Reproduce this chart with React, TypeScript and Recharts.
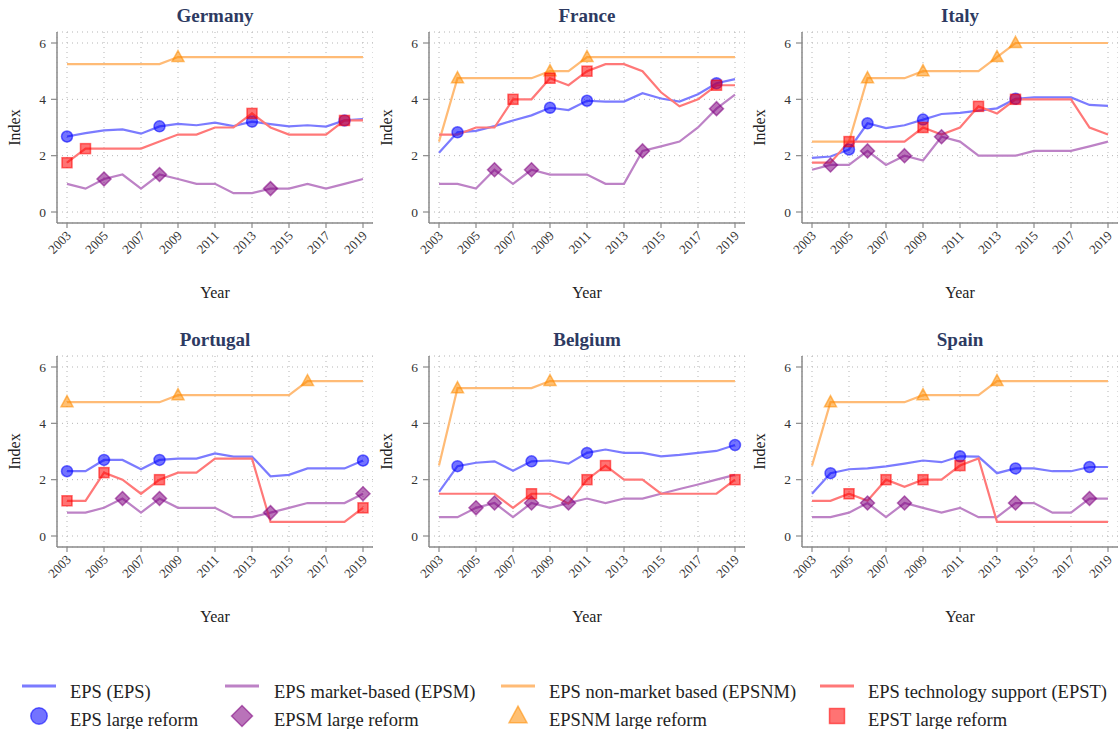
import { LineChart, Line, XAxis, YAxis, CartesianGrid } from 'recharts'

const YEARS = [2003, 2004, 2005, 2006, 2007, 2008, 2009, 2010, 2011, 2012, 2013, 2014, 2015, 2016, 2017, 2018, 2019]
const X_TICKS = [2003, 2005, 2007, 2009, 2011, 2013, 2015, 2017, 2019]
const Y_TICKS = [0, 2, 4, 6]

// Germany
const DE_EPS = [2.68, 2.8, 2.9, 2.93, 2.78, 3.04, 3.13, 3.08, 3.17, 3.05, 3.21, 3.12, 3.04, 3.08, 3.03, 3.25, 3.3]
const DE_EPSM = [1.0, 0.83, 1.17, 1.33, 0.83, 1.33, 1.17, 1.0, 1.0, 0.67, 0.67, 0.83, 0.83, 1.0, 0.83, 1.0, 1.17]
const DE_EPSNM = [5.25, 5.25, 5.25, 5.25, 5.25, 5.25, 5.5, 5.5, 5.5, 5.5, 5.5, 5.5, 5.5, 5.5, 5.5, 5.5, 5.5]
const DE_EPST = [1.75, 2.25, 2.25, 2.25, 2.25, 2.5, 2.75, 2.75, 3.0, 3.0, 3.5, 3.0, 2.75, 2.75, 2.75, 3.25, 3.25]
const DE_EPS_REF = [2003, 2008, 2013, 2018]
const DE_EPSM_REF = [2005, 2008, 2014]
const DE_EPSNM_REF = [2009]
const DE_EPST_REF = [2003, 2004, 2013, 2018]

// France
const FR_EPS = [2.1, 2.83, 2.88, 3.05, 3.25, 3.43, 3.7, 3.62, 3.95, 3.92, 3.92, 4.22, 4.03, 3.92, 4.18, 4.57, 4.72]
const FR_EPSM = [1.0, 1.0, 0.83, 1.5, 1.0, 1.5, 1.33, 1.33, 1.33, 1.0, 1.0, 2.17, 2.33, 2.5, 3.0, 3.67, 4.17]
const FR_EPSNM = [2.5, 4.75, 4.75, 4.75, 4.75, 4.75, 5.0, 5.0, 5.5, 5.5, 5.5, 5.5, 5.5, 5.5, 5.5, 5.5, 5.5]
const FR_EPST = [2.75, 2.75, 3.0, 3.0, 4.0, 4.0, 4.75, 4.5, 5.0, 5.25, 5.25, 5.0, 4.25, 3.75, 4.0, 4.5, 4.5]
const FR_EPS_REF = [2004, 2009, 2011, 2018]
const FR_EPSM_REF = [2006, 2008, 2014, 2018]
const FR_EPSNM_REF = [2004, 2009, 2011]
const FR_EPST_REF = [2007, 2009, 2011, 2018]

// Italy
const IT_EPS = [1.92, 1.97, 2.22, 3.15, 2.98, 3.08, 3.28, 3.48, 3.52, 3.6, 3.68, 4.02, 4.07, 4.07, 4.07, 3.8, 3.77]
const IT_EPSM = [1.5, 1.67, 1.67, 2.17, 1.67, 2.0, 1.83, 2.67, 2.5, 2.0, 2.0, 2.0, 2.17, 2.17, 2.17, 2.33, 2.5]
const IT_EPSNM = [2.5, 2.5, 2.5, 4.75, 4.75, 4.75, 5.0, 5.0, 5.0, 5.0, 5.5, 6.0, 6.0, 6.0, 6.0, 6.0, 6.0]
const IT_EPST = [1.75, 1.75, 2.5, 2.5, 2.5, 2.5, 3.0, 2.75, 3.0, 3.75, 3.5, 4.0, 4.0, 4.0, 4.0, 3.0, 2.75]
const IT_EPS_REF = [2005, 2006, 2009, 2014]
const IT_EPSM_REF = [2004, 2006, 2008, 2010]
const IT_EPSNM_REF = [2006, 2009, 2013, 2014]
const IT_EPST_REF = [2005, 2009, 2012, 2014]

// Portugal
const PT_EPS = [2.3, 2.3, 2.7, 2.7, 2.37, 2.7, 2.75, 2.75, 2.93, 2.82, 2.82, 2.12, 2.17, 2.4, 2.4, 2.4, 2.68]
const PT_EPSM = [0.83, 0.83, 1.0, 1.33, 0.83, 1.33, 1.0, 1.0, 1.0, 0.67, 0.67, 0.83, 1.0, 1.17, 1.17, 1.17, 1.5]
const PT_EPSNM = [4.75, 4.75, 4.75, 4.75, 4.75, 4.75, 5.0, 5.0, 5.0, 5.0, 5.0, 5.0, 5.0, 5.5, 5.5, 5.5, 5.5]
const PT_EPST = [1.25, 1.25, 2.25, 2.0, 1.5, 2.0, 2.25, 2.25, 2.75, 2.75, 2.75, 0.5, 0.5, 0.5, 0.5, 0.5, 1.0]
const PT_EPS_REF = [2003, 2005, 2008, 2019]
const PT_EPSM_REF = [2006, 2008, 2014, 2019]
const PT_EPSNM_REF = [2003, 2009, 2016]
const PT_EPST_REF = [2003, 2005, 2008, 2019]

// Belgium
const BE_EPS = [1.57, 2.48, 2.6, 2.65, 2.32, 2.65, 2.68, 2.57, 2.95, 3.07, 2.95, 2.95, 2.83, 2.88, 2.95, 3.02, 3.23]
const BE_EPSM = [0.67, 0.67, 1.0, 1.17, 0.67, 1.17, 1.0, 1.17, 1.33, 1.17, 1.33, 1.33, 1.5, 1.67, 1.83, 2.0, 2.17]
const BE_EPSNM = [2.5, 5.25, 5.25, 5.25, 5.25, 5.25, 5.5, 5.5, 5.5, 5.5, 5.5, 5.5, 5.5, 5.5, 5.5, 5.5, 5.5]
const BE_EPST = [1.5, 1.5, 1.5, 1.5, 1.0, 1.5, 1.5, 1.15, 2.0, 2.5, 2.0, 2.0, 1.5, 1.5, 1.5, 1.5, 2.0]
const BE_EPS_REF = [2004, 2008, 2011, 2019]
const BE_EPSM_REF = [2005, 2006, 2008, 2010]
const BE_EPSNM_REF = [2004, 2009]
const BE_EPST_REF = [2008, 2011, 2012, 2019]

// Spain
const ES_EPS = [1.5, 2.23, 2.37, 2.4, 2.47, 2.57, 2.68, 2.62, 2.83, 2.82, 2.23, 2.4, 2.4, 2.3, 2.3, 2.45, 2.45]
const ES_EPSM = [0.67, 0.67, 0.83, 1.17, 0.67, 1.17, 1.0, 0.83, 1.0, 0.67, 0.67, 1.17, 1.17, 0.83, 0.83, 1.33, 1.33]
const ES_EPSNM = [2.5, 4.75, 4.75, 4.75, 4.75, 4.75, 5.0, 5.0, 5.0, 5.0, 5.5, 5.5, 5.5, 5.5, 5.5, 5.5, 5.5]
const ES_EPST = [1.25, 1.25, 1.5, 1.25, 2.0, 1.75, 2.0, 2.0, 2.5, 2.75, 0.5, 0.5, 0.5, 0.5, 0.5, 0.5, 0.5]
const ES_EPS_REF = [2004, 2011, 2014, 2018]
const ES_EPSM_REF = [2006, 2008, 2014, 2018]
const ES_EPSNM_REF = [2004, 2009, 2013]
const ES_EPST_REF = [2005, 2007, 2009, 2011]

const PANELS = [
  { name: 'Germany', eps: DE_EPS, epsm: DE_EPSM, epsnm: DE_EPSNM, epst: DE_EPST, ref: [DE_EPS_REF, DE_EPSM_REF, DE_EPSNM_REF, DE_EPST_REF] },
  { name: 'France', eps: FR_EPS, epsm: FR_EPSM, epsnm: FR_EPSNM, epst: FR_EPST, ref: [FR_EPS_REF, FR_EPSM_REF, FR_EPSNM_REF, FR_EPST_REF] },
  { name: 'Italy', eps: IT_EPS, epsm: IT_EPSM, epsnm: IT_EPSNM, epst: IT_EPST, ref: [IT_EPS_REF, IT_EPSM_REF, IT_EPSNM_REF, IT_EPST_REF] },
  { name: 'Portugal', eps: PT_EPS, epsm: PT_EPSM, epsnm: PT_EPSNM, epst: PT_EPST, ref: [PT_EPS_REF, PT_EPSM_REF, PT_EPSNM_REF, PT_EPST_REF] },
  { name: 'Belgium', eps: BE_EPS, epsm: BE_EPSM, epsnm: BE_EPSNM, epst: BE_EPST, ref: [BE_EPS_REF, BE_EPSM_REF, BE_EPSNM_REF, BE_EPST_REF] },
  { name: 'Spain', eps: ES_EPS, epsm: ES_EPSM, epsnm: ES_EPSNM, epst: ES_EPST, ref: [ES_EPS_REF, ES_EPSM_REF, ES_EPSNM_REF, ES_EPST_REF] },
]

const SERIES = [
  { key: 'eps', line: '#7b7bff', mark: '#0000ff', shape: 'circle', label: 'EPS (EPS)', refLabel: 'EPS large reform' },
  { key: 'epsm', line: '#bd82c6', mark: '#800080', shape: 'diamond', label: 'EPS market-based (EPSM)', refLabel: 'EPSM large reform' },
  { key: 'epsnm', line: '#ffbb76', mark: '#ff8c00', shape: 'triangle', label: 'EPS non-market based (EPSNM)', refLabel: 'EPSNM large reform' },
  { key: 'epst', line: '#ff7878', mark: '#ff0000', shape: 'square', label: 'EPS technology support (EPST)', refLabel: 'EPST large reform' },
]

const FONT = '"Liberation Serif", "DejaVu Serif", serif'
const AXIS = '#8a8a8a'
const COL_LEFT = [0, 372, 745]
const ROW_TOP = [0, 324]
const W = 373
const H = 303

function Marker({ shape, color, cx, cy, scale = 1 }: any) {
  const common = { fill: color, fillOpacity: 0.55, stroke: color, strokeOpacity: 0.55, strokeWidth: 1.5 }
  if (shape === 'circle') return <circle cx={cx} cy={cy} r={5.5 * scale} {...common} />
  if (shape === 'diamond') {
    const s = 7 * scale
    return <polygon points={`${cx},${cy - s} ${cx + s},${cy} ${cx},${cy + s} ${cx - s},${cy}`} {...common} />
  }
  if (shape === 'triangle') {
    const s = 6 * scale
    return <polygon points={`${cx},${cy - s * 1.1} ${cx + s},${cy + s * 0.75} ${cx - s},${cy + s * 0.75}`} {...common} />
  }
  const s = 5 * scale
  return <rect x={cx - s} y={cy - s} width={s * 2} height={s * 2} {...common} />
}

const reformDot = (shape: string, color: string, years: number[]) => (props: any) => {
  const { cx, cy, payload, index } = props
  if (!years.includes(payload.year)) return <g key={index} />
  return <Marker key={index} shape={shape} color={color} cx={cx} cy={cy} />
}

function YearTick({ x, y, payload }: any) {
  return (
    <g transform={`translate(${x},${y})`}>
      <text x={-1} y={8} textAnchor="end" transform="rotate(-45)" fontSize={13} fill="#333" fontFamily={FONT}>
        {payload.value}
      </text>
    </g>
  )
}

function Panel({ panel, left, top }: any) {
  const data = YEARS.map((year, i) => ({
    year,
    eps: panel.eps[i],
    epsm: panel.epsm[i],
    epsnm: panel.epsnm[i],
    epst: panel.epst[i],
  }))
  return (
    <div style={{ position: 'absolute', left, top, width: W, height: H }}>
      <div
        style={{
          position: 'absolute', left: 57, top: 5, width: W - 57, textAlign: 'center',
          fontSize: 19, lineHeight: '22px', fontWeight: 'bold', color: '#2d3a62', fontFamily: FONT,
        }}
      >
        {panel.name}
      </div>
      <LineChart width={W} height={H} data={data} margin={{ top: 32, right: 0, left: 0, bottom: 0 }}>
        <CartesianGrid stroke="#b5b5b5" strokeDasharray="1 4" />
        <XAxis
          dataKey="year" type="number" domain={[2003, 2019]} ticks={X_TICKS} interval={0} padding={{ left: 10, right: 10 }}
          height={80} tick={<YearTick />} tickSize={5} tickMargin={2}
          axisLine={{ stroke: AXIS, strokeWidth: 1.5 }} tickLine={{ stroke: AXIS, strokeWidth: 1.2 }}
          label={{
            content: ({ viewBox }: any) => (
              <text x={viewBox.x + viewBox.width / 2} y={viewBox.y + 75} textAnchor="middle" fontSize={16} fill="#222" fontFamily={FONT}>
                Year
              </text>
            ),
          }}
        />
        <YAxis
          type="number" domain={[0, 6]} ticks={Y_TICKS} interval={0} padding={{ top: 11, bottom: 11 }} width={57}
          tick={{ fontSize: 13.5, fill: '#333', fontFamily: FONT }} tickSize={6} tickMargin={5}
          axisLine={{ stroke: AXIS, strokeWidth: 1.5 }} tickLine={{ stroke: AXIS, strokeWidth: 1.2 }}
          label={{
            content: ({ viewBox }: any) => {
              const cx = viewBox.x + 20
              const cy = viewBox.y + viewBox.height / 2
              return (
                <text x={cx} y={cy} textAnchor="middle" fontSize={16} fill="#222" fontFamily={FONT} transform={`rotate(-90 ${cx} ${cy})`}>
                  Index
                </text>
              )
            },
          }}
        />
        {SERIES.map((s) => (
          <Line key={s.key} dataKey={s.key} type="linear" stroke={s.line} strokeWidth={2.2} dot={false} activeDot={false} isAnimationActive={false} />
        ))}
        {SERIES.map((s, i) => (
          <Line
            key={s.key + '-ref'} dataKey={s.key} type="linear" stroke="none" activeDot={false}
            dot={reformDot(s.shape, s.mark, panel.ref[i])} isAnimationActive={false}
          />
        ))}
      </LineChart>
    </div>
  )
}

const LEGEND_X = [22, 225, 501, 820]
const LEGEND_TEXT_X = [70, 274, 549, 868]

function Legend() {
  return (
    <svg width={1118} height={69} style={{ position: 'absolute', left: 0, top: 660 }}>
      {SERIES.map((s, i) => (
        <g key={s.key}>
          <line x1={LEGEND_X[i]} x2={LEGEND_X[i] + 34} y1={26} y2={26} stroke={s.line} strokeWidth={3} />
          <text x={LEGEND_TEXT_X[i]} y={38} fontSize={18.5} fill="#222" fontFamily={FONT}>{s.label}</text>
          <Marker shape={s.shape} color={s.mark} cx={LEGEND_X[i] + 17} cy={56} scale={1.5} />
          <text x={LEGEND_TEXT_X[i]} y={66} fontSize={18.5} fill="#222" fontFamily={FONT}>{s.refLabel}</text>
        </g>
      ))}
    </svg>
  )
}

export default function App() {
  return (
    <div style={{ position: 'relative', width: 1118, height: 729, background: '#fff', fontFamily: FONT }}>
      <style>{'body{margin:0}'}</style>
      {PANELS.map((p, i) => (
        <Panel key={p.name} panel={p} left={COL_LEFT[i % 3]} top={ROW_TOP[Math.floor(i / 3)]} />
      ))}
      <Legend />
    </div>
  )
}
